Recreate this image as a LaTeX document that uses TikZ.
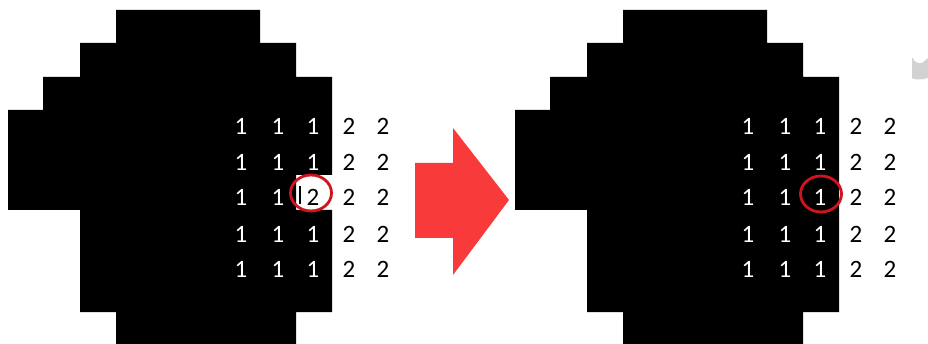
\documentclass[tikz,border=0pt]{standalone}
\usepackage{fontspec}
\setmainfont{Carlito}
\usetikzlibrary{shapes.geometric}
\definecolor{ringred}{HTML}{D0141E}
\definecolor{arrowred}{HTML}{F83A3A}
\begin{document}
\begin{tikzpicture}[x=1pt,y=-1pt,
  blob/.style={fill=black,draw=none},
  wnum/.style={text=white,font=\fontsize{25}{25}\selectfont,inner sep=0pt,anchor=center},
  bnum/.style={text=black,font=\fontsize{25}{25}\selectfont,inner sep=0pt,anchor=center},
  ring/.style={draw=ringred,line width=2.8pt,ellipse,minimum width=41pt,minimum height=36pt,inner sep=0pt},
  bigarrow/.style={fill=arrowred,draw=none}]
\useasboundingbox (0,0) rectangle (928,344);
\fill[white] (0,0) rectangle (928,344);
% left blob
\fill[blob] (116,10) -- (260,10) -- (260,43) -- (296,43) -- (296,77) -- (332,77) -- (332,175)
  -- (296,175) -- (296,210) -- (332,210) -- (332,312) -- (296,312) -- (296,344) -- (116,344)
  -- (116,312) -- (80,312) -- (80,210) -- (8,210) -- (8,110) -- (43,110) -- (43,77) -- (80,77)
  -- (80,43) -- (116,43) -- cycle;
\fill[black] (298.5,186) rectangle (301,204);
% right blob
\begin{scope}[xshift=507pt]
\fill[blob] (116,10) -- (260,10) -- (260,43) -- (296,43) -- (296,77) -- (332,77) -- (332,312)
  -- (296,312) -- (296,344) -- (116,344) -- (116,312) -- (80,312) -- (80,210) -- (8,210)
  -- (8,110) -- (43,110) -- (43,77) -- (80,77) -- (80,43) -- (116,43) -- cycle;
\end{scope}
% arrow
\fill[bigarrow] (415,163) -- (453,163) -- (453,128) -- (509,200) -- (453,275) -- (453,238) -- (415,238) -- cycle;
% gray mark
\fill[gray!35] (912,57) .. controls (914,62) and (918,64) .. (922,63) -- (928,58) -- (928,78)
  .. controls (922,80) and (914,80) .. (912,78) -- cycle;
% numbers
\foreach \r/\y in {1/126,2/162,3/197,4/234,5/269}{
  \foreach \c/\x in {1/241,2/278,3/313}{
    \ifnum\r=3 \ifnum\c=3
      \node[bnum] (L\r\c) at (\x,\y) {2};
    \else
      \node[wnum] (L\r\c) at (\x,\y) {1};
    \fi\else
      \node[wnum] (L\r\c) at (\x,\y) {1};
    \fi
    \node[wnum] (R\r\c) at (\x+507,\y) {1};
  }
  \foreach \c/\x in {4/349,5/383}{
    \node[bnum] (L\r\c) at (\x,\y) {2};
    \node[bnum] (R\r\c) at (\x+507,\y) {2};
  }
}
\node[ring] (cL) at (311,193) {};
\node[ring] (cR) at (821,194) {};
\end{tikzpicture}
\end{document}
